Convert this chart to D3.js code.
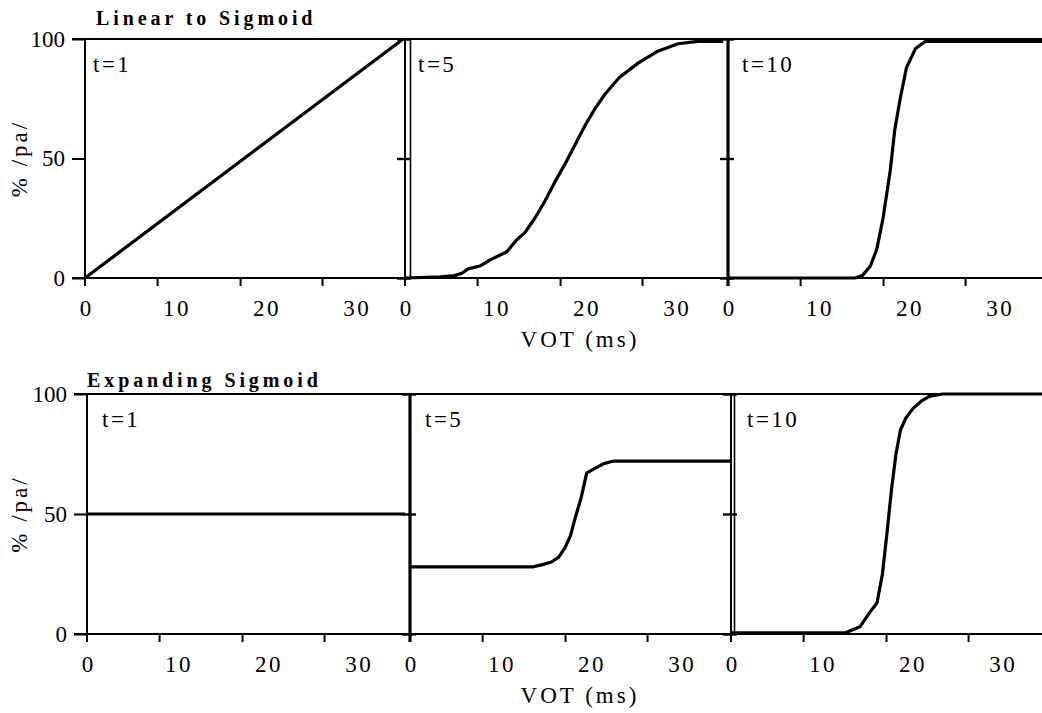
<!DOCTYPE html>
<html><head><meta charset="utf-8">
<script src="https://cdn.jsdelivr.net/npm/d3@7"></script>
<style>
body{margin:0;background:#fff}
text{font-family:"Liberation Serif","Times New Roman",serif;fill:#000}
</style>
</head><body>
<svg id="chart" width="1042" height="713"></svg>
<script>
// Identification functions: percent /pa/ responses against VOT (ms)
const chartTitles = ["Linear to Sigmoid", "Expanding Sigmoid"];
const panelTimes = ["t=1", "t=5", "t=10"];
const xLabelValues = [0, 10, 20, 30];
const xTickValues = [0, 8, 17.2, 26.3];
const yTickValues = [0, 50, 100];
const xAxisTitle = "VOT (ms)";
const yAxisTitle = "% /pa/";

// Linear to Sigmoid
const linVotT1 = [0, 35.3];
const linPctT1 = [0, 100];
const linVotT5 = [0, 3.9, 5.5, 6.3, 7, 8.3, 9.4, 10.5, 11.3, 12.4, 13.3, 14.4, 15.5, 16.6, 17.8, 18.9, 20, 21.1, 22.2, 23.8, 25.9, 28.1, 30.3, 32.5, 35.3];
const linPctT5 = [0, 0.5, 1, 2, 3.8, 5, 7.5, 9.5, 11, 16, 19, 25, 32, 40, 48, 56, 64, 71, 77, 84, 90, 95, 98, 99, 99];
const linVotT10 = [0, 14.1, 14.9, 15.8, 16.5, 17.2, 18, 18.5, 19.1, 19.8, 20.8, 21.9, 23, 35];
const linPctT10 = [0, 0, 1, 5, 12, 25, 45, 62, 75, 88, 96, 99, 99, 99];

// Expanding Sigmoid
const expVotT1 = [0, 35.3];
const expPctT1 = [50, 50];
const expVotT5 = [0, 13.7, 14.8, 15.7, 16.5, 17.2, 17.8, 18.3, 19, 19.6, 20.5, 21.5, 22.5, 24, 35.5];
const expPctT5 = [28, 28, 29, 30, 32, 36, 41, 48, 57, 67, 69, 71, 72, 72, 72];
const expVotT10 = [0, 12.7, 14.3, 15.4, 16.2, 16.8, 17.3, 17.8, 18.3, 18.8, 19.4, 20.2, 21.1, 22, 23.5, 35];
const expPctT10 = [0.5, 0.5, 3, 9, 13, 25, 42, 60, 75, 85, 90, 94, 97, 99, 100, 100];

const zip = (xs, ys) => xs.map((v, i) => [v, ys[i]]);

const rows = [
  {
    title: chartTitles[0], top: 39, bottom: 278, titleX: 96, titleY: 25,
    x0: [85, 405, 728], labelDx: [8, 13, 14],
    axisStyle: ["single", "double", "thick"], gap: 5.5,
    series: [zip(linVotT1, linPctT1), zip(linVotT5, linPctT5), zip(linVotT10, linPctT10)]
  },
  {
    title: chartTitles[1], top: 394, bottom: 634, titleX: 87, titleY: 387,
    x0: [87, 410, 731], labelDx: [15, 15, 16],
    axisStyle: ["single", "thick", "double"], gap: 3.5,
    series: [zip(expVotT1, expPctT1), zip(expVotT5, expPctT5), zip(expVotT10, expPctT10)]
  }
];

const W = 1042, panelW = 320, xMax = 35.5;
const svg = d3.select("#chart");

rows.forEach(row => {
  const g = svg.append("g");
  const y = d3.scaleLinear().domain([0, 100]).range([row.bottom, row.top]);

  // chart title
  g.append("text")
    .attr("x", row.titleX).attr("y", row.titleY)
    .attr("font-weight", "bold").attr("font-size", 20)
    .attr("letter-spacing", 3.9)
    .text(row.title);

  // frame top and baseline across all three panels
  g.append("line").attr("x1", row.x0[0] - 13).attr("x2", W)
    .attr("y1", y(100)).attr("y2", y(100)).attr("stroke", "#000").attr("stroke-width", 2);
  g.append("line").attr("x1", row.x0[0] - 13).attr("x2", W)
    .attr("y1", y(0)).attr("y2", y(0)).attr("stroke", "#000").attr("stroke-width", 2);

  // y tick labels on the first panel
  const yAxis = d3.axisLeft(y).tickValues(yTickValues).tickSize(13).tickPadding(7);
  const ya = g.append("g").attr("transform", `translate(${row.x0[0]},0)`).call(yAxis);
  ya.select(".domain").remove();
  ya.selectAll("line").attr("stroke", "#000").attr("stroke-width", 2);
  ya.selectAll("text").attr("font-size", 23).attr("font-family", "Liberation Serif").attr("fill", "#000");

  // y axis title
  const yc = (row.top + row.bottom) / 2;
  g.append("text")
    .attr("transform", `translate(27,${yc}) rotate(-90)`)
    .attr("text-anchor", "middle").attr("font-size", 23).attr("letter-spacing", 3)
    .text(yAxisTitle);

  row.x0.forEach((x0, i) => {
    const x = d3.scaleLinear().domain([0, xMax]).range([x0, x0 + panelW]);
    const style = row.axisStyle[i];

    // vertical axis line of the panel, extending down as the 0 tick
    g.append("line").attr("x1", x0).attr("x2", x0)
      .attr("y1", row.top).attr("y2", row.bottom + 8)
      .attr("stroke", "#000").attr("stroke-width", style === "thick" ? 3.2 : 2);
    if (style === "double") {
      g.append("line").attr("x1", x0 + row.gap).attr("x2", x0 + row.gap)
        .attr("y1", row.top).attr("y2", row.bottom)
        .attr("stroke", "#000").attr("stroke-width", 1.6);
    }
    if (i > 0) {
      // small crossing ticks on inner panel axes
      const inner = d3.axisLeft(y).tickValues(yTickValues).tickSize(8).tickFormat("");
      const ia = g.append("g").attr("transform", `translate(${x0},0)`).call(inner);
      ia.select(".domain").remove();
      ia.selectAll("line").attr("x2", -8).attr("x1", 6).attr("stroke", "#000").attr("stroke-width", 2.4);
    }

    // x tick marks
    const tickAxis = d3.axisBottom(x).tickValues(xTickValues.slice(1)).tickSize(8).tickFormat("");
    const ta = g.append("g").attr("transform", `translate(0,${row.bottom})`).call(tickAxis);
    ta.select(".domain").remove();
    ta.selectAll("line").attr("stroke", "#000").attr("stroke-width", 2);

    // x tick labels
    const labAxis = d3.axisBottom(x).tickValues(xLabelValues).tickSize(0).tickPadding(22);
    const la = g.append("g").attr("transform", `translate(0,${row.bottom})`).call(labAxis);
    la.select(".domain").remove();
    la.selectAll("text").attr("font-size", 23).attr("font-family", "Liberation Serif")
      .attr("fill", "#000").attr("letter-spacing", 2.5).attr("dx", 1.25);

    // panel label
    g.append("text").attr("x", x0 + row.labelDx[i]).attr("y", row.top + 33)
      .attr("font-size", 23).attr("letter-spacing", 2.5)
      .text(panelTimes[i]);

    // response curve
    const line = d3.line().x(d => x(d[0])).y(d => y(d[1]));
    g.append("path").datum(row.series[i])
      .attr("d", line).attr("fill", "none").attr("stroke", "#000")
      .attr("stroke-width", 3.2).attr("stroke-linejoin", "round");
  });

  // x axis title
  g.append("text").attr("x", 580).attr("y", row.bottom + 69)
    .attr("text-anchor", "middle").attr("font-size", 23).attr("letter-spacing", 3)
    .text(xAxisTitle);
});
</script>
</body></html>
